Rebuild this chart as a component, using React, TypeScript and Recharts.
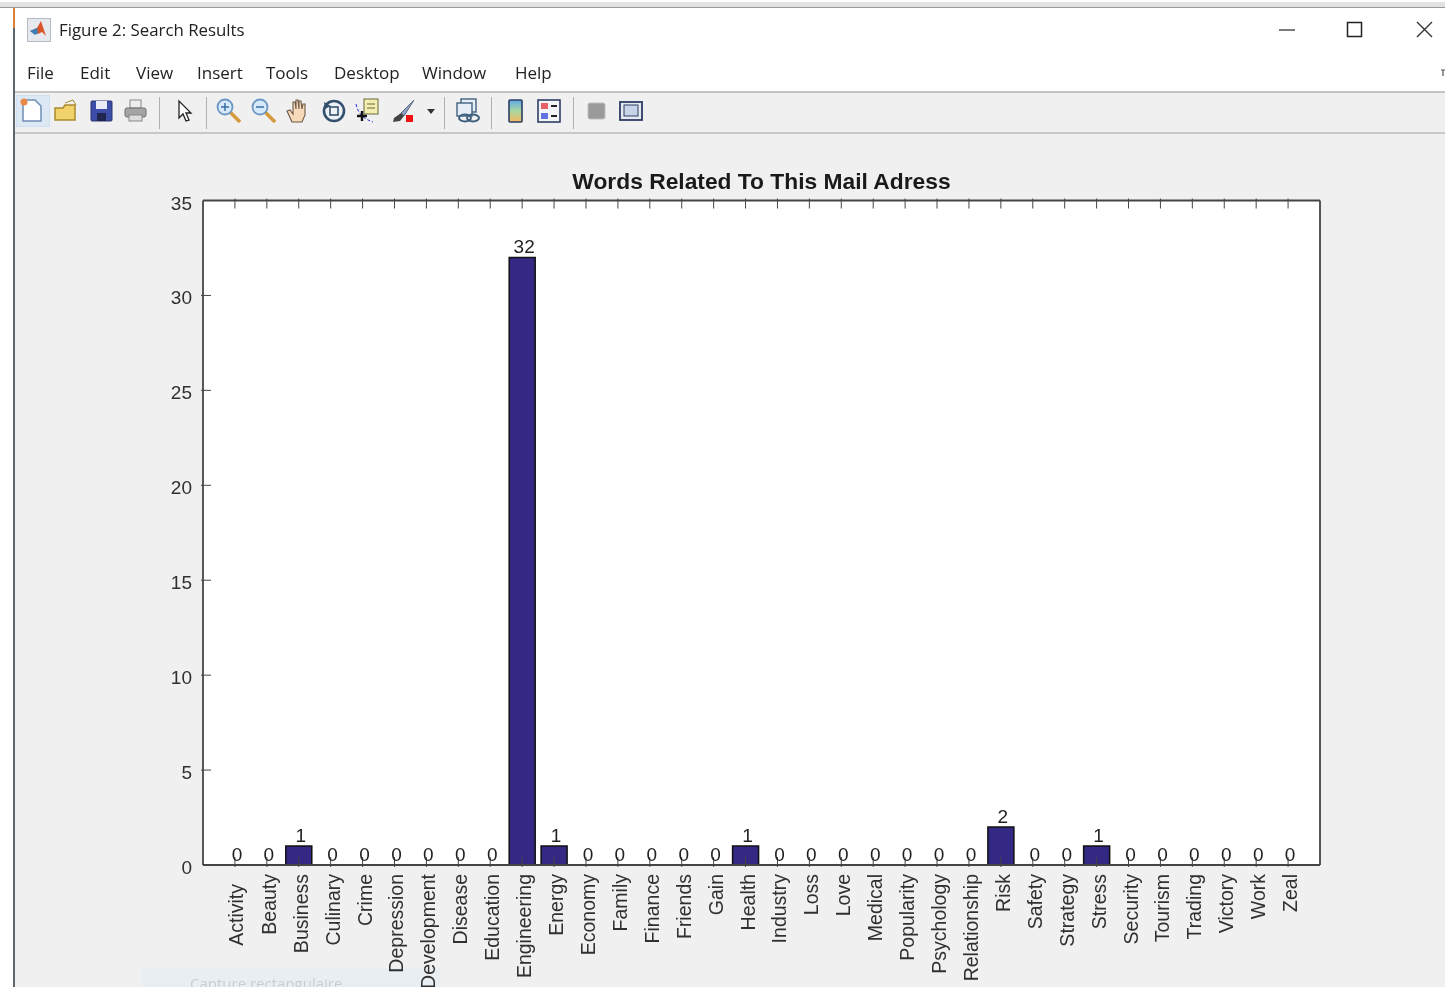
import { Bar, ComposedChart, LabelList, Label, Line, XAxis, YAxis } from "recharts"

const categories = [
  "Activity", "Beauty", "Business", "Culinary", "Crime", "Depression", "Development", "Disease", "Education",
  "Engineering", "Energy", "Economy", "Family", "Finance", "Friends", "Gain", "Health", "Industry", "Loss", "Love",
  "Medical", "Popularity", "Psychology", "Relationship", "Risk", "Safety", "Strategy", "Stress", "Security",
  "Tourism", "Trading", "Victory", "Work", "Zeal",
]
const counts = [0, 0, 1, 0, 0, 0, 0, 0, 0, 32, 1, 0, 0, 0, 0, 0, 1, 0, 0, 0, 0, 0, 0, 0, 2, 0, 0, 1, 0, 0, 0, 0, 0, 0]
const yTicks = [0, 5, 10, 15, 20, 25, 30, 35]
const menuItems = [
  ["File", 27], ["Edit", 80], ["View", 136], ["Insert", 197], ["Tools", 266],
  ["Desktop", 334], ["Window", 422], ["Help", 515],
] as const
const separators = [159, 206, 444, 491, 573]

const data = categories.map((name, i) => ({ pos: i + 1, name, count: counts[i] }))
const xTicks = data.map((d) => d.pos)

const axisFont = '"Liberation Sans", Arial, sans-serif'
const uiFont = '"Open Sans", "Noto Sans", sans-serif'
const textColor = "#303030"
const axisColor = "#454545"
const TICK = 10

function BottomTick({ x, y, payload }: any) {
  // the first label sits lower than the others in the original figure
  const shift = payload.value === 1 ? 10 : 0
  const dx = payload.value === 1 ? 8 : 9
  return (
    <g>
      <line x1={x} x2={x} y1={y} y2={y - TICK} stroke={axisColor} />
      <text
        transform={`translate(${x + dx},${y + 7 + shift}) rotate(-90)`}
        textAnchor="end"
        fontFamily={axisFont}
        fontSize={19.5}
        fill={textColor}
      >
        {categories[payload.value - 1]}
      </text>
    </g>
  )
}

function TopTick({ x, y }: any) {
  return <line x1={x} x2={x} y1={y} y2={y + TICK} stroke={axisColor} />
}

function LeftTick({ x, y, payload }: any) {
  return (
    <g>
      {payload.value > 0 && payload.value < 35 && <line x1={x} x2={x + TICK} y1={y} y2={y} stroke={axisColor} />}
      <text x={x - 9} y={y + 9} textAnchor="end" fontFamily={axisFont} fontSize={19} fill={textColor}>
        {payload.value}
      </text>
    </g>
  )
}

function RightTick({ x, y, payload }: any) {
  if (payload.value === 0 || payload.value === 35) return <g />
  return <line x1={x} x2={x - TICK} y1={y} y2={y} stroke={axisColor} />
}

function CountLabel({ x, y, value }: any) {
  return (
    <text x={x + 2} y={y - 4} textAnchor="middle" fontFamily={axisFont} fontSize={19} fill="#1f1f1f">
      {value}
    </text>
  )
}

function ToolIcon({ x, children }: { x: number; children: any }) {
  return (
    <svg width={30} height={30} viewBox="0 0 30 30" style={{ position: "absolute", left: x, top: 96 }}>
      {children}
    </svg>
  )
}

function Toolbar() {
  return (
    <>
      <div style={{ position: "absolute", left: 16, top: 95, width: 34, height: 32, background: "#dce9f5", border: "1px solid #cfe0f0", boxSizing: "border-box" }} />
      <ToolIcon x={17}>
        <path d="M6 4h12l6 6v15H6z" fill="#fff" stroke="#6f8fb5" strokeWidth={1.5} />
        <circle cx={7} cy={6} r={3.5} fill="#e8894a" />
      </ToolIcon>
      <ToolIcon x={51}>
        <path d="M4 12h8l2-3h10v15H4z" fill="#f2d36b" stroke="#a98a2c" strokeWidth={1.5} />
        <path d="M14 7l8-3 3 5" fill="none" stroke="#a98a2c" />
      </ToolIcon>
      <ToolIcon x={87}>
        <rect x={4} y={5} width={21} height={20} rx={1} fill="#3c4ea8" stroke="#2b3570" />
        <rect x={9} y={5} width={11} height={8} fill="#e9ecf6" />
        <rect x={10} y={17} width={9} height={8} fill="#20264f" />
      </ToolIcon>
      <ToolIcon x={121}>
        <rect x={9} y={4} width={11} height={8} fill="#eee" stroke="#888" />
        <rect x={4} y={12} width={21} height={9} rx={2} fill="#a4a4a4" stroke="#6e6e6e" />
        <rect x={8} y={19} width={13} height={6} fill="#ddd" stroke="#888" />
      </ToolIcon>
      <ToolIcon x={169}>
        <path d="M10 5l0 17 4-4 3 7 3-1-3-7 5 0z" fill="#fff" stroke="#222" strokeWidth={1.3} />
      </ToolIcon>
      {[214, 249].map((x, i) => (
        <ToolIcon key={x} x={x}>
          <line x1={16} y1={16} x2={26} y2={26} stroke="#d59a3a" strokeWidth={3.5} />
          <circle cx={11} cy={11} r={7.5} fill="#d6e9f8" stroke="#6d97c4" strokeWidth={1.8} />
          <line x1={7} x2={15} y1={11} y2={11} stroke="#3a6ea8" strokeWidth={1.5} />
          {i === 0 && <line x1={11} x2={11} y1={7} y2={15} stroke="#3a6ea8" strokeWidth={1.5} />}
        </ToolIcon>
      ))}
      <ToolIcon x={284}>
        <path d="M8 26l-5-11 3-1 3 4V6h2l1 7V4h2l1 9V5h2l1 8 1-5h2l0 11-3 7z" fill="#f6d9b8" stroke="#6b5a48" strokeWidth={1.1} />
      </ToolIcon>
      <ToolIcon x={319}>
        <circle cx={15} cy={15} r={10} fill="#eef2f6" stroke="#34506e" strokeWidth={2.6} />
        <path d="M5 6l1 7 6-3z" fill="#34506e" />
        <rect x={11} y={11} width={8} height={8} fill="none" stroke="#34506e" strokeWidth={1.6} />
      </ToolIcon>
      <ToolIcon x={353}>
        <rect x={11} y={3} width={14} height={15} fill="#f4efb0" stroke="#68683a" />
        <line x1={14} x2={22} y1={8} y2={8} stroke="#68683a" />
        <line x1={14} x2={22} y1={12} y2={12} stroke="#68683a" />
        <path d="M3 8c2 10 8 15 17 18" fill="none" stroke="#2a2ae0" strokeDasharray="3 2" />
        <path d="M9 15v10M4 20h10" stroke="#111" strokeWidth={2.4} />
      </ToolIcon>
      <ToolIcon x={389}>
        <path d="M25 4L12 17l3 3z" fill="#8f9fc0" stroke="#5d6b88" />
        <path d="M12 17l-7 5-1 4 7-1 4-5z" fill="#444" />
        <rect x={17} y={19} width={7} height={7} fill="#ee1111" />
      </ToolIcon>
      <svg width={8} height={6} style={{ position: "absolute", left: 427, top: 109 }}>
        <path d="M0 0h8l-4 5z" fill="#333" />
      </svg>
      <ToolIcon x={453}>
        <rect x={8} y={3} width={15} height={13} fill="#e8eef6" stroke="#40607f" strokeWidth={1.4} />
        <rect x={4} y={7} width={15} height={13} fill="#e8eef6" stroke="#40607f" strokeWidth={1.4} />
        <ellipse cx={12} cy={22} rx={6} ry={3.5} fill="none" stroke="#40607f" strokeWidth={2} />
        <ellipse cx={20} cy={22} rx={6} ry={3.5} fill="none" stroke="#40607f" strokeWidth={2} />
      </ToolIcon>
      <svg width={30} height={30} style={{ position: "absolute", left: 500, top: 96 }}>
        <defs>
          <linearGradient id="cbar" x1="0" y1="0" x2="0" y2="1">
            <stop offset="0" stopColor="#5fa8e8" />
            <stop offset="0.5" stopColor="#a8d8a0" />
            <stop offset="1" stopColor="#f4b860" />
          </linearGradient>
        </defs>
        <rect x={9} y={4} width={13} height={22} rx={1} fill="url(#cbar)" stroke="#2d3e63" strokeWidth={1.6} />
      </svg>
      <ToolIcon x={534}>
        <rect x={4} y={4} width={22} height={22} fill="#f2f4f8" stroke="#2d3e63" strokeWidth={1.6} />
        <rect x={7} y={7} width={7} height={6} fill="#e8606a" />
        <rect x={7} y={17} width={7} height={6} fill="#5f72e0" />
        <line x1={17} x2={23} y1={10} y2={10} stroke="#222" strokeWidth={2} />
        <line x1={17} x2={23} y1={20} y2={20} stroke="#222" strokeWidth={2} />
      </ToolIcon>
      <ToolIcon x={582}>
        <rect x={6} y={7} width={17} height={16} rx={2} fill="#9a9a9a" stroke="#bdbdbd" />
      </ToolIcon>
      <ToolIcon x={616}>
        <rect x={4} y={6} width={22} height={18} fill="#e6eaf2" stroke="#2d3e63" strokeWidth={1.8} />
        <rect x={8} y={9} width={14} height={11} fill="#c7d4e8" stroke="#2d3e63" />
      </ToolIcon>
    </>
  )
}

function WindowChrome() {
  return (
    <>
      <div style={{ position: "absolute", left: 0, top: 0, width: 1445, height: 987, background: "#fff" }} />
      <div style={{ position: "absolute", left: 0, top: 2, width: 1445, height: 5, background: "#e2e2e2", borderBottom: "1px solid #9a9a9a" }} />
      <div style={{ position: "absolute", left: 13, top: 8, width: 2, height: 979, background: "#5b6670" }} />
      <div style={{ position: "absolute", left: 13, top: 8, width: 2, height: 20, background: "#d9803a" }} />
      <div style={{ position: "absolute", left: 15, top: 92, width: 1430, height: 895, background: "#f0f0f0" }} />
      <div style={{ position: "absolute", left: 15, top: 91, width: 1430, height: 2, background: "#c4c4c4" }} />
      <div style={{ position: "absolute", left: 15, top: 132, width: 1430, height: 2, background: "#c8c8c8" }} />
      <svg width={26} height={26} style={{ position: "absolute", left: 27, top: 18 }}>
        <rect x={0.5} y={0.5} width={23} height={23} fill="#e6e9ee" stroke="#b5bac2" />
        <path d="M3 13l7-3 4-7 5 15-4-4-4 2z" fill="#d9562c" />
        <path d="M3 13l7-3 1 5-3 2z" fill="#3f7fb8" />
      </svg>
      <div style={{ position: "absolute", left: 59, top: 18, fontFamily: uiFont, fontSize: 17, color: "#222", whiteSpace: "nowrap", transform: "scaleX(0.99)", transformOrigin: "left" }}>
        Figure 2: Search Results
      </div>
      {menuItems.map(([label, x]) => (
        <div key={label} style={{ position: "absolute", left: x, top: 61, fontFamily: uiFont, fontSize: 17, color: "#222" }}>
          {label}
        </div>
      ))}
      <svg width={170} height={30} style={{ position: "absolute", left: 1275, top: 15 }}>
        <line x1={4} x2={20} y1={15} y2={15} stroke="#444" strokeWidth={1.4} />
        <rect x={72.5} y={7.5} width={14} height={14} fill="none" stroke="#222" strokeWidth={1.5} />
        <path d="M142 7l15 15M157 7l-15 15" stroke="#333" strokeWidth={1.4} />
      </svg>
      <svg width={5} height={8} style={{ position: "absolute", left: 1440, top: 68 }}>
        <path d="M1 2h4M3 2v6" stroke="#555" strokeWidth={1.2} fill="none" />
      </svg>
      {separators.map((x) => (
        <div key={x} style={{ position: "absolute", left: x, top: 97, width: 1, height: 32, background: "#b0b0b0" }} />
      ))}
      <Toolbar />
      <div style={{ position: "absolute", left: 142, top: 968, width: 298, height: 19, background: "#e9eef3" }} />
      <div style={{ position: "absolute", left: 190, top: 973, fontFamily: uiFont, fontSize: 15, color: "#c9ced3", whiteSpace: "nowrap" }}>
        Capture rectangulaire
      </div>
    </>
  )
}

export default function App() {
  return (
    <div style={{ position: "fixed", left: 0, top: 0, width: 1445, height: 987, overflow: "hidden", filter: "blur(0.4px)" }}>
      <WindowChrome />
      <div style={{ position: "absolute", left: 203, top: 200, width: 1117, height: 665, background: "#fff" }} />
      <div style={{ position: "absolute", left: 0, top: 0 }}>
        <ComposedChart width={1445} height={987} data={data} margin={{ top: 199.5, right: 124, bottom: 121, left: 202 }}>
          <XAxis
            xAxisId="bottom"
            dataKey="pos"
            type="number"
            domain={[0, 35]}
            ticks={xTicks}
            interval={0}
            height={1}
            tickSize={0}
            tick={<BottomTick />}
            stroke={axisColor}
            strokeWidth={1.8}
          />
          <XAxis
            xAxisId="top"
            orientation="top"
            dataKey="pos"
            type="number"
            domain={[0, 35]}
            ticks={xTicks}
            interval={0}
            height={1}
            tickSize={0}
            tick={<TopTick />}
            stroke={axisColor}
            strokeWidth={1.8}
          >
            <Label
              value="Words Related To This Mail Adress"
              position="top"
              offset={11}
              fontFamily={axisFont}
              fontSize={22.8}
              fontWeight="bold"
              fill="#1a1a1a"
            />
          </XAxis>
          <YAxis
            yAxisId="left"
            domain={[0, 35]}
            ticks={yTicks}
            interval={0}
            width={1}
            tickSize={0}
            tick={<LeftTick />}
            stroke={axisColor}
            strokeWidth={1.8}
          />
          <YAxis
            yAxisId="right"
            orientation="right"
            domain={[0, 35]}
            ticks={yTicks}
            interval={0}
            width={1}
            tickSize={0}
            tick={<RightTick />}
            stroke={axisColor}
            strokeWidth={1.8}
          />
          <Bar
            xAxisId="bottom"
            yAxisId="left"
            dataKey="count"
            barSize={26}
            fill="#332985"
            stroke="#111"
            strokeWidth={1.5}
            isAnimationActive={false}
          />
          <Line
            xAxisId="bottom"
            yAxisId="left"
            dataKey="count"
            stroke="none"
            dot={false}
            activeDot={false}
            legendType="none"
            isAnimationActive={false}
          >
            <LabelList dataKey="count" content={<CountLabel />} />
          </Line>
        </ComposedChart>
      </div>
    </div>
  )
}
